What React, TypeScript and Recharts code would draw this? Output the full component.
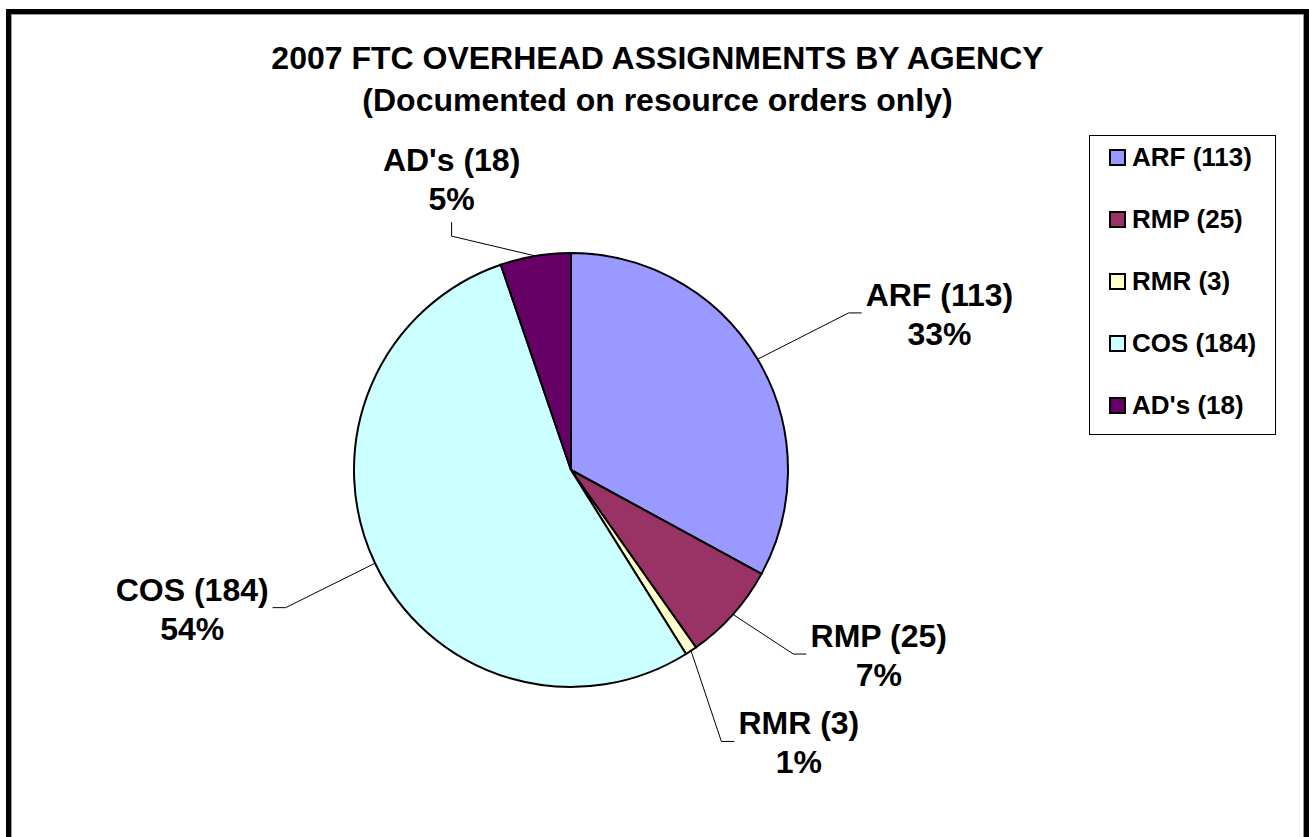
import React from 'react'
import { PieChart, Pie, Cell, Legend } from 'recharts'

const categories = ['ARF', 'RMP', 'RMR', 'COS', "AD's"]
const counts = [113, 25, 3, 184, 18]
const titleLines = ['2007 FTC OVERHEAD ASSIGNMENTS BY AGENCY', '(Documented on resource orders only)']

const sliceColors = ['#9999FF', '#993366', '#FFFFCC', '#CCFFFF', '#660066']
// leader line placement: angle shift from the slice middle, reach in radii, side of the text
const labelTurn = [-1.2, 2.1, -4.6, 0.3, 17.6]
const labelReach = [1.47, 1.33, 1.43, 1.46, 1.21]
const labelSide = ['right', 'right', 'right', 'left', 'up']

const FONT = '"Liberation Sans", Arial, Helvetica, sans-serif'
const LABEL_SIZE = 32

const data = categories.map((c, i) => ({ name: `${c} (${counts[i]})`, value: counts[i] }))

let ctx: CanvasRenderingContext2D | null = null
const textWidth = (s: string) => {
    if (!ctx) ctx = document.createElement('canvas').getContext('2d')
    if (!ctx) return s.length * LABEL_SIZE * 0.6
    ctx.font = `bold ${LABEL_SIZE}px ${FONT}`
    return ctx.measureText(s).width
}

const RAD = Math.PI / 180

const renderLabel = (p: any) => {
    const { cx, cy, midAngle, outerRadius, percent, index, name } = p
    const sx = cx + outerRadius * Math.cos(-midAngle * RAD)
    const sy = cy + outerRadius * Math.sin(-midAngle * RAD)
    const a = midAngle + labelTurn[index]
    const rr = outerRadius * labelReach[index]
    const ex = cx + rr * Math.cos(-a * RAD)
    const ey = cy + rr * Math.sin(-a * RAD)
    const pct = `${Math.round(percent * 100)}%`
    const w = Math.max(textWidth(name), textWidth(pct))
    const side = labelSide[index]
    let tx = ex, ty = ey, bx = ex, by = ey + 2
    if (side === 'right') {
        tx = ex + 13
        bx = tx + 4 + w / 2
    } else if (side === 'left') {
        tx = ex - 13
        bx = tx - 4 - w / 2
    } else {
        ty = ey - 14
        by = ty - 42
    }
    return (
        <g key={`lbl-${index}`}>
            <polyline points={`${sx},${sy} ${ex},${ey} ${tx},${ty}`} stroke="#000" strokeWidth={1} fill="none" />
            <text x={bx} y={by - 20} textAnchor="middle" dominantBaseline="central"
                style={{ fontFamily: FONT, fontSize: LABEL_SIZE, fontWeight: 'bold' }} fill="#000">
                {name}
            </text>
            <text x={bx} y={by + 19} textAnchor="middle" dominantBaseline="central"
                style={{ fontFamily: FONT, fontSize: LABEL_SIZE, fontWeight: 'bold' }} fill="#000">
                {pct}
            </text>
        </g>
    )
}

const renderLegend = () => (
    <div style={{
        position: 'relative', width: 187, height: 300, boxSizing: 'border-box', border: '1px solid #000',
        background: '#fff', fontFamily: FONT, fontWeight: 'bold', fontSize: 26
    }}>
        {data.map((d, i) => (
            <div key={d.name} style={{
                position: 'absolute', left: 0, top: i * 62 - 10, height: 62,
                display: 'flex', alignItems: 'center', paddingLeft: 19
            }}>
                <span style={{
                    width: 17, height: 17, boxSizing: 'border-box', border: '2px solid #000',
                    background: sliceColors[i], marginRight: 6, display: 'inline-block'
                }} />
                <span>{d.name}</span>
            </div>
        ))}
    </div>
)

export default function App() {
    return (
        <div style={{ position: 'absolute', left: 0, top: 0, width: 1309, height: 837, overflow: 'hidden', background: '#fff' }}>
            {/* frame */}
            <div style={{
                position: 'absolute', left: 6, top: 9, width: 1303, height: 900, boxSizing: 'border-box',
                border: '5px solid #000', boxShadow: 'inset 0 0 0 1px #999'
            }} />

            {/* title */}
            <div style={{
                position: 'absolute', left: 11, top: 37, width: 1293, textAlign: 'center',
                fontFamily: FONT, fontWeight: 'bold', fontSize: 32, lineHeight: '42px', color: '#000'
            }}>
                {titleLines.map((t) => <div key={t}>{t}</div>)}
            </div>

            <div style={{ position: 'absolute', left: 0, top: 0 }}>
                <PieChart width={1309} height={837} margin={{ top: 0, right: 0, bottom: 0, left: 0 }}>
                    <Pie
                        data={data}
                        dataKey="value"
                        nameKey="name"
                        cx={571}
                        cy={470}
                        outerRadius={217}
                        startAngle={90}
                        endAngle={-270}
                        stroke="#000"
                        strokeWidth={2}
                        label={renderLabel}
                        labelLine={false}
                        isAnimationActive={false}
                    >
                        {data.map((d, i) => <Cell key={d.name} fill={sliceColors[i]} />)}
                    </Pie>
                    <Legend
                        layout="vertical"
                        align="right"
                        verticalAlign="top"
                        content={renderLegend}
                        wrapperStyle={{ position: 'absolute', left: 1089, top: 135, width: 187, height: 300 }}
                    />
                </PieChart>
            </div>
        </div>
    )
}
